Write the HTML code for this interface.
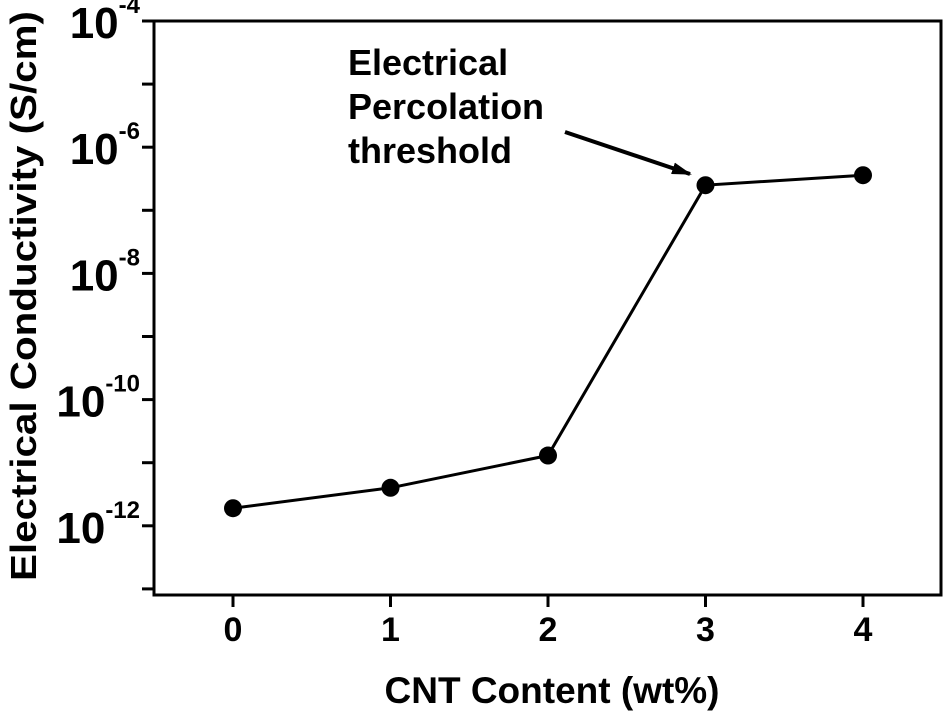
<!DOCTYPE html>
<html><head><meta charset="utf-8"><style>
body{margin:0;background:#fff}
svg{display:block;font-family:"Liberation Sans",Arial,sans-serif;font-weight:bold}
</style></head><body>
<svg width="945" height="711" viewBox="0 0 945 711" id="c">
<defs><marker id="ah" markerWidth="20" markerHeight="12" refX="18" refY="6" orient="auto" markerUnits="userSpaceOnUse"><path d="M0,0 L20,6 L0,12 z" fill="#000"/></marker></defs>
<rect x="154" y="21" width="787" height="574" fill="none" stroke="#000" stroke-width="3"/>
<g id="yax"></g>
<g id="xax"></g>
<g id="series"></g>
<text transform="translate(36,296) rotate(-90)" text-anchor="middle" font-size="36" textLength="570" lengthAdjust="spacingAndGlyphs">Electrical Conductivity (S/cm)</text>
<text x="552" y="703" text-anchor="middle" font-size="37">CNT Content (wt%)</text>
<g font-size="36">
<text x="348" y="75">Electrical</text>
<text x="348" y="119">Percolation</text>
<text x="348" y="163">threshold</text>
</g>
<line x1="565" y1="132" x2="690" y2="174" stroke="#000" stroke-width="4" marker-end="url(#ah)"/>
</svg>
<script>
const categories=[0,1,2,3,4];
const conductivity=[1.9e-12,4e-12,1.3e-11,2.5e-7,3.6e-7];
const majorExps=[-4,-6,-8,-10,-12];
const tickExps=[-4,-5,-6,-7,-8,-9,-10,-11,-12,-13];
const NS="http://www.w3.org/2000/svg";
const xs=c=>233+c*157.5;
const ys=v=>21+(-4-Math.log10(v))*63.1;
function mk(t,a,p){const e=document.createElementNS(NS,t);for(const k in a)e.setAttribute(k,a[k]);p.appendChild(e);return e;}
const yax=document.getElementById('yax'),xax=document.getElementById('xax'),ser=document.getElementById('series');
tickExps.forEach(e=>{const y=ys(Math.pow(10,e));const l=mk('line',{x1:142,x2:154,y1:y,y2:y,stroke:'#000','stroke-width':3},yax);

});
majorExps.forEach(e=>{const y=ys(Math.pow(10,e));const t=mk('text',{x:140,y:y+17,'text-anchor':'end','font-size':44},yax);


t.textContent='10';const s=mk('tspan',{dy:-25,'font-size':24},t);s.textContent=String(e);});
categories.forEach(c=>{const x=xs(c);const l=mk('line',{x1:x,x2:x,y1:595,y2:607,stroke:'#000','stroke-width':3},xax);


const t=mk('text',{x:x,y:641,'text-anchor':'middle','font-size':34},xax);


t.textContent=String(c);});
const pts=categories.map((c,i)=>xs(c)+','+ys(conductivity[i])).join(' ');
const pl=mk('polyline',{points:pts,fill:'none',stroke:'#000','stroke-width':3},ser);


categories.forEach((c,i)=>{const p=mk('circle',{cx:xs(c),cy:ys(conductivity[i]),r:9,fill:'#000'},ser);

});
</script>
</body></html>
